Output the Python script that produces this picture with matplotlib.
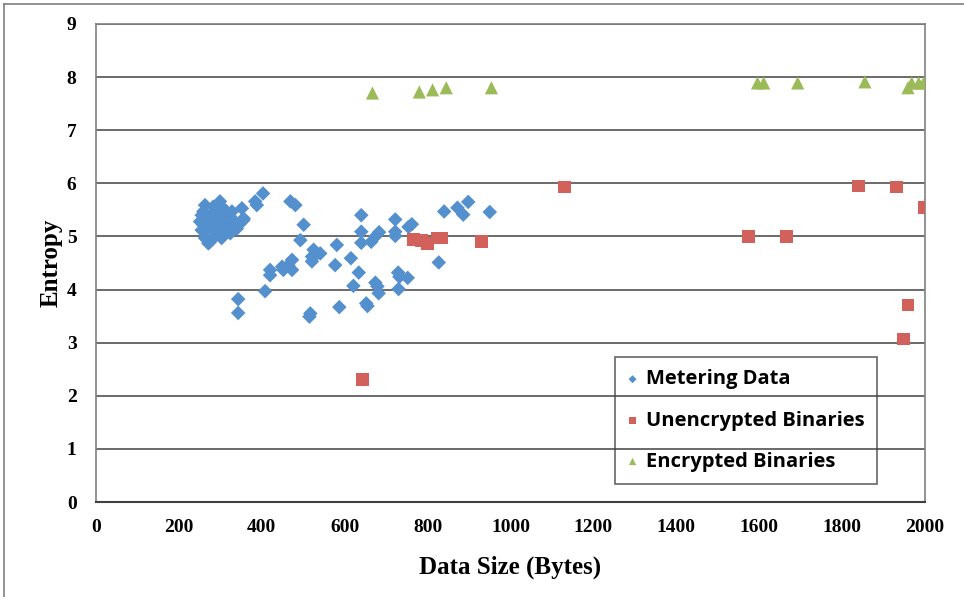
import matplotlib.pyplot as plt
from matplotlib.lines import Line2D

# Metering data: (size in bytes, entropy)
meter_size = [263, 259, 255, 251, 259, 267, 263, 271, 275, 299, 303, 295, 307,
              291, 307, 315, 303, 303, 328, 324, 332, 328, 324, 340, 348, 352,
              356, 356, 384, 388, 403, 469, 481, 501, 493, 283, 275, 287, 279,
              283, 315, 271, 295, 283, 255,
              640, 640, 640, 664, 674, 683, 722, 722, 722, 754, 762, 840, 872,
              886, 898, 950, 581, 525, 521, 541, 521, 529, 577, 615, 634, 621,
              674, 679, 682, 729, 732, 752, 730, 827, 517, 515, 587, 652, 655,
              420, 420, 449, 452, 464, 473, 473, 408, 343, 343]
meter_entropy = [5.59, 5.47, 5.40, 5.28, 5.22, 5.12, 4.97, 4.87, 4.90, 5.66,
                 5.56, 5.44, 5.37, 5.25, 5.22, 5.12, 5.03, 4.97, 5.47, 5.37,
                 5.28, 5.18, 5.06, 5.15, 5.25, 5.53, 5.34, 5.31, 5.66, 5.59,
                 5.81, 5.66, 5.59, 5.22, 4.93, 5.31, 5.18, 5.12, 5.40, 5.56,
                 5.47, 5.31, 5.06, 4.97, 5.12,
                 5.40, 5.09, 4.88, 4.90, 5.00, 5.08, 5.32, 5.09, 5.01, 5.18,
                 5.23, 5.47, 5.54, 5.41, 5.65, 5.46, 4.84, 4.75, 4.62, 4.68,
                 4.53, 4.65, 4.46, 4.59, 4.32, 4.07, 4.13, 4.06, 3.93, 4.32,
                 4.24, 4.22, 4.01, 4.51, 3.55, 3.49, 3.67, 3.74, 3.69,
                 4.37, 4.27, 4.43, 4.37, 4.46, 4.56, 4.37, 3.97, 3.82, 3.56]

# Unencrypted binaries
plain_size = [642, 766, 785, 799, 824, 833, 930, 1130, 1575, 1666, 1840, 1932,
              1998, 1959, 1949]
plain_entropy = [2.30, 4.95, 4.93, 4.86, 4.97, 4.97, 4.90, 5.93, 5.00, 5.00,
                 5.95, 5.93, 5.55, 3.71, 3.07]

# Encrypted binaries
enc_size = [667, 780, 812, 845, 954, 1596, 1611, 1693, 1855, 1959, 1968, 1985,
            1997]
enc_entropy = [7.70, 7.72, 7.76, 7.80, 7.80, 7.89, 7.89, 7.89, 7.91, 7.80,
               7.89, 7.89, 7.89]

x_ticks = list(range(0, 2001, 200))
y_ticks = list(range(0, 10))

fig = plt.figure(figsize=(9.64, 5.97), dpi=100)
ax = fig.add_axes([0.0996, 0.1591, 0.8599, 0.8007])

ax.scatter(meter_size, meter_entropy, marker='D', s=55, color='#5490CD',
           edgecolors='none', label='Metering Data', zorder=3)
ax.scatter(plain_size, plain_entropy, marker='s', s=85, color='#D2605B',
           edgecolors='none', label='Unencrypted Binaries', zorder=3)
ax.scatter(enc_size, enc_entropy, marker='^', s=90, color='#9BBB59',
           edgecolors='none', label='Encrypted Binaries', zorder=3)

ax.set_xlim(0, 2000)
ax.set_ylim(0, 9)
ax.set_xticks(x_ticks)
ax.set_yticks(y_ticks)
ax.yaxis.grid(True, color='#6a6a6a', lw=1.4)
ax.set_axisbelow(True)
ax.tick_params(length=0, labelsize=14)
ax.tick_params(axis='x', pad=12)
ax.tick_params(axis='y', pad=14)
for lab in ax.get_xticklabels() + ax.get_yticklabels():
    lab.set_fontfamily('Liberation Serif')
    lab.set_fontweight('bold')

for side in ['left', 'right', 'top']:
    ax.spines[side].set_color('#808080')
    ax.spines[side].set_linewidth(1.2)
ax.spines['bottom'].set_color('#404040')
ax.spines['bottom'].set_linewidth(1.5)

ax.set_xlabel('Data Size (Bytes)', fontsize=18, fontweight='bold',
              family='Liberation Serif', labelpad=14)
ax.set_ylabel('Entropy', fontsize=18, fontweight='bold',
              family='Liberation Serif', labelpad=3)

leg = ax.legend(loc='lower left', bbox_to_anchor=(0.626, 0.038),
                borderaxespad=0, frameon=True, fancybox=False,
                facecolor='none', edgecolor='#404040', markerscale=0.55,
                handlelength=0.55, handletextpad=0.4, labelspacing=1.05,
                borderpad=0.6, prop={'family': 'Open Sans', 'weight': 'bold',
                                     'size': 14.5})
leg.get_frame().set_linewidth(1.2)

# chart area border
fig.add_artist(Line2D([4 / 964, 4 / 964], [0, 1 - 4 / 597],
                      color='#808080', lw=1.2))
fig.add_artist(Line2D([4 / 964, 1], [1 - 4 / 597, 1 - 4 / 597],
                      color='#808080', lw=1.2))

fig.savefig('out.png', dpi=100)
